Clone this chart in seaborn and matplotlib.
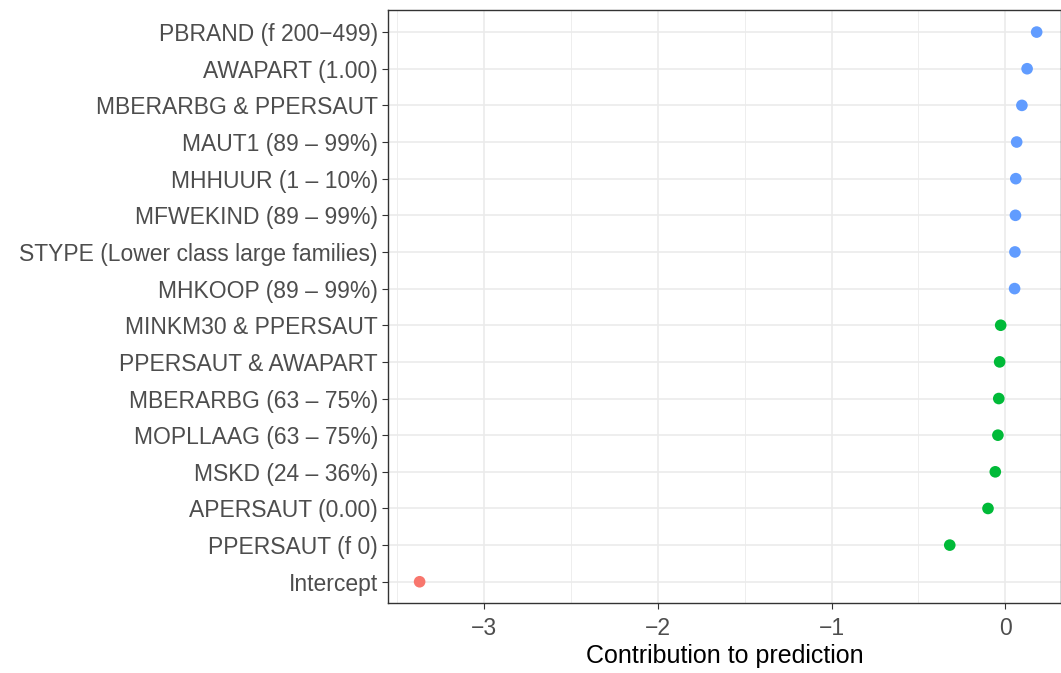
import numpy as np
import pandas as pd
import matplotlib
matplotlib.use("Agg")
import matplotlib.pyplot as plt
import seaborn as sns

labels = ["PBRAND (f 200\u2212499)", "AWAPART (1.00)", "MBERARBG & PPERSAUT",
          "MAUT1 (89 \u2013 99%)", "MHHUUR (1 \u2013 10%)", "MFWEKIND (89 \u2013 99%)",
          "STYPE (Lower class large families)", "MHKOOP (89 \u2013 99%)",
          "MINKM30 & PPERSAUT", "PPERSAUT & AWAPART", "MBERARBG (63 \u2013 75%)",
          "MOPLLAAG (63 \u2013 75%)", "MSKD (24 \u2013 36%)", "APERSAUT (0.00)",
          "PPERSAUT (f 0)", "Intercept"]
values = [0.18, 0.125, 0.095, 0.065, 0.06, 0.058, 0.055, 0.053,
          -0.027, -0.033, -0.038, -0.043, -0.058, -0.10, -0.32, -3.37]
groups = ["pos"] * 8 + ["neg"] * 7 + ["int"]
palette = {"int": "#F8766D", "neg": "#00BA38", "pos": "#619CFF"}

df = pd.DataFrame({"feature": labels, "value": values, "group": groups})

sns.set_style("white")
plt.rcParams['font.family'] = ['Liberation Sans', 'DejaVu Sans']

fig = plt.figure(figsize=(10.61, 6.73), dpi=100)
ax = fig.add_axes([0.366, 0.104, 0.634, 0.881])

sns.scatterplot(data=df, x="value", y="feature", hue="group", palette=palette,
                s=70, edgecolor="none", legend=False, ax=ax, zorder=3)

ax.set_xlim(-3.55, 0.32)
ax.set_ylim(len(labels) - 0.42, -0.6)
ax.set_xticks([-3, -2, -1, 0])
ax.set_xticklabels(["\u22123", "\u22122", "\u22121", "0"])
ax.set_xticks([-3.5, -2.5, -1.5, -0.5], minor=True)
ax.grid(True, which="major", color="#EBEBEB", linewidth=1.2, zorder=0)
ax.grid(True, which="minor", axis="x", color="#EBEBEB", linewidth=0.6, zorder=0)
ax.set_axisbelow(True)
for s in ax.spines.values():
    s.set_color("#333333")
    s.set_linewidth(1.0)
ax.tick_params(axis="both", which="major", length=4, color="#333333",
               labelsize=16.5, labelcolor="#4D4D4D", left=True, bottom=True)
ax.tick_params(axis="x", which="major", pad=6)
ax.tick_params(axis="x", which="minor", length=0)
ax.set_ylabel("")
ax.set_xlabel("Contribution to prediction", fontsize=18, color="black", labelpad=3)

fig.savefig("out.png", dpi=100, facecolor="white")
